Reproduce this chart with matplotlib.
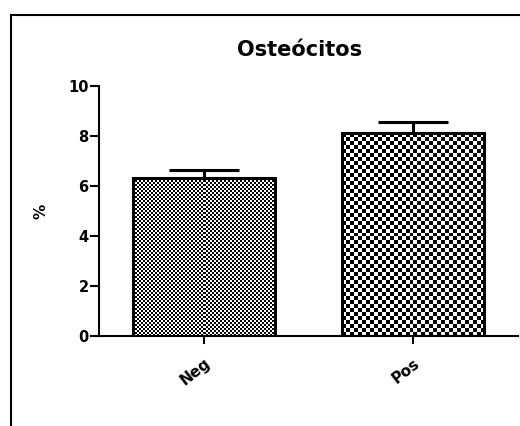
import numpy as np
import matplotlib
matplotlib.use("Agg")
import matplotlib.pyplot as plt
from matplotlib.lines import Line2D

plt.rcParams['font.family'] = ['DejaVu Sans']
plt.rcParams['font.weight'] = 'bold'

groups = ['Neg', 'Pos']
means = [6.3, 8.1]
sem = [0.32, 0.46]
checker_px = [2, 4]   # checker cell size per bar, in pixels

W, H = 520, 426
fig = plt.figure(figsize=(W / 100, H / 100), dpi=100)
ax = fig.add_axes([99 / W, 1 - 336 / H, (518 - 99) / W, (336 - 86) / H])

x = np.arange(len(groups))
bars = ax.bar(x, means, width=0.68, facecolor='none', edgecolor='black',
              linewidth=2.2, zorder=3)
ax.errorbar(x, means, yerr=[np.zeros(len(sem)), sem], fmt='none',
            ecolor='black', elinewidth=2.2, capsize=25, capthick=2.2, zorder=2)

ax.set_xlim(-0.5, 1.5)
ax.set_ylim(0, 10)
ax.set_yticks(range(0, 11, 2))
ax.set_xticks(x)
ax.set_xticklabels(groups, rotation=38, ha='right', rotation_mode='anchor',
                   fontsize=11, fontweight='bold')
ax.tick_params(axis='y', labelsize=10.5, width=1.5, length=6.5, pad=1)
ax.tick_params(axis='x', width=1.5, length=6, pad=8)
for lab in ax.get_yticklabels():
    lab.set_fontweight('bold')
for s in ['top', 'right']:
    ax.spines[s].set_visible(False)
for s in ['left', 'bottom']:
    ax.spines[s].set_linewidth(1.5)
ax.set_ylabel('%', fontsize=11, fontweight='bold', labelpad=14)

# checkerboard fill clipped to each bar
for bar, cell in zip(bars, checker_px):
    x0, y0 = bar.get_x(), bar.get_y()
    x1, y1 = x0 + bar.get_width(), y0 + bar.get_height()
    (px0, py0), (px1, py1) = ax.transData.transform([(x0, y0), (x1, y1)])
    nx = max(1, int(round((px1 - px0) / cell)))
    ny = max(1, int(round((py1 - py0) / cell)))
    iy, ix = np.indices((ny, nx))
    board = (ix + iy) % 2
    im = ax.imshow(board, cmap='gray', interpolation='nearest',
                   extent=[x0, x1, y0, y1], origin='lower', aspect='auto',
                   zorder=2.5)
    im.set_clip_path(bar)
ax.set_xlim(-0.5, 1.5)
ax.set_ylim(0, 10)

fig.text(300 / W, 1 - 50 / H, 'Osteócitos', ha='center', va='center',
         fontsize=15, fontweight='bold')

# outer frame
fig.add_artist(Line2D([11 / W, 11 / W], [1 - 15 / H, 0], color='black',
                      linewidth=1.5, transform=fig.transFigure))
fig.add_artist(Line2D([11 / W, 1], [1 - 15 / H, 1 - 15 / H], color='black',
                      linewidth=1.5, transform=fig.transFigure))

fig.savefig('out.png', dpi=100)
